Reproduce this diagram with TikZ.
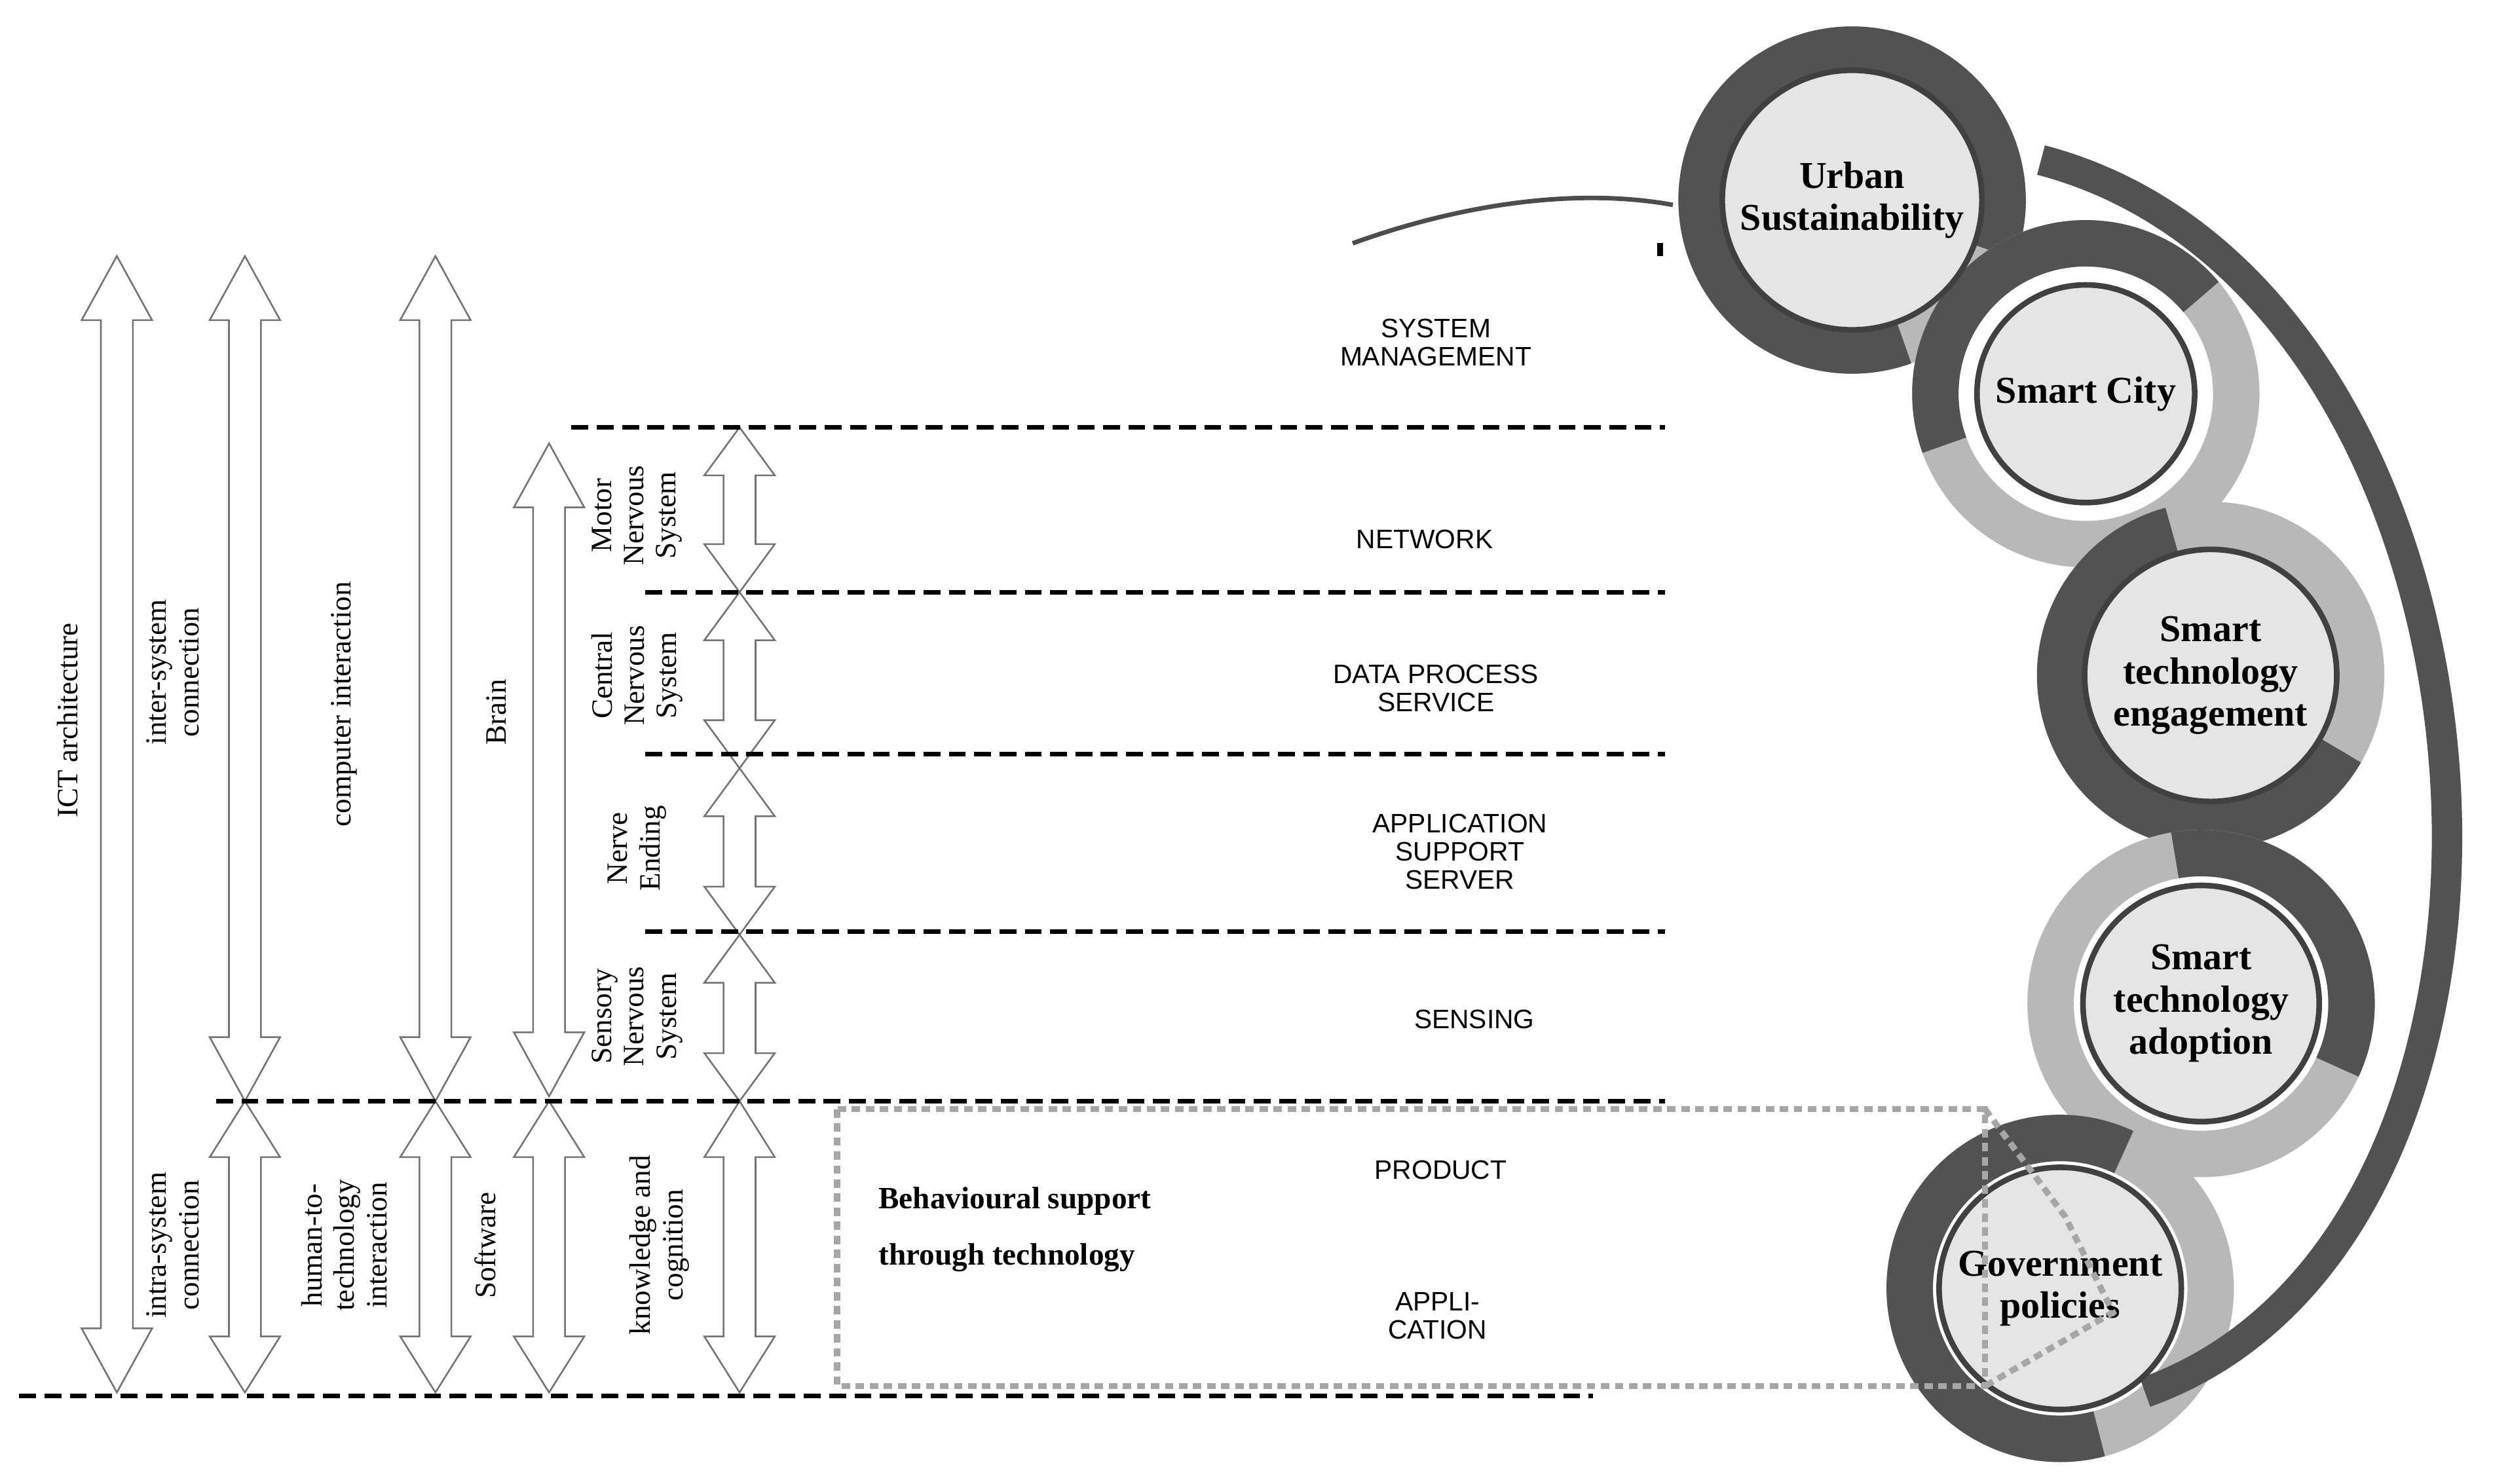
\documentclass[tikz,border=0pt]{standalone}
\usepackage{fontspec}
\setmainfont{Liberation Serif}
\newfontfamily\layerfont{Liberation Sans}
\tikzset{%
        hollow arrow/.style={draw=black!55, fill=white, line width=0.6pt},
        layer line/.style={dashed, line width=1.6pt, dash pattern=on 6pt off 3pt},
        layer text/.style={font=\layerfont\fontsize{9.5}{10}\selectfont, align=center},
        side text/.style={rotate=90, align=center, font=\fontsize{10.5}{11.5}\selectfont},
        goal circle/.style={circle, draw=black!75, line width=2pt, fill=black!10,
            minimum size=136*0.02cm, align=center, font=\bfseries\fontsize{13.5}{15}\selectfont},
        ring light/.style={draw=black!28, line width=0.58cm},
        ring dark/.style={draw=black!68, line width=0.58cm},
    }
\newcommand\vArrow[4]{% x, top, bottom, head length
    \draw [hollow arrow] (#1,#2) -- (#1+22,#2-#4) -- (#1+10,#2-#4) -- (#1+10,#3+#4)
        -- (#1+22,#3+#4) -- (#1,#3) -- (#1-22,#3+#4) -- (#1-10,#3+#4)
        -- (#1-10,#2-#4) -- (#1-22,#2-#4) -- cycle;}
\newcommand\goalRing[3]{% centre, dark from, dark to
    \draw [ring light] (#1) circle [radius=94*0.02cm];
    \draw [ring dark] (#1) ++(#2:94*0.02cm) arc [start angle=#2, end angle=#3, radius=94*0.02cm];}

\begin{document}
\begin{tikzpicture}[x=0.02cm, y=0.02cm]
        \useasboundingbox (0,0) rectangle (1568,-927);

        % architecture arrows
        \vArrow{73}{-160}{-870}{40}
        \vArrow{153}{-160}{-688}{40}
        \vArrow{272}{-160}{-688}{40}
        \vArrow{343}{-277}{-685}{40}
        \foreach \x in {153,272,343,462}
            {\vArrow{\x}{-688}{-870}{35}}
        \foreach \t/\b in {267/370,370/480,480/584,584/688}
            {\vArrow{462}{-\t}{-\b}{30}}

        % layer lines
        \foreach \y/\s in {267/357,370/403,471/403,582/403,688/135}
            {\draw [layer line] (\s,-\y) -- (1040,-\y);}
        \draw [layer line] (12,-872) -- (995,-872);

        % side labels
        \node [side text] (ict) at (42,-450) {ICT architecture};
        \node [side text] (inter) at (108,-420) {inter-system\\connection};
        \node [side text] (comp) at (215,-440) {computer interaction};
        \node [side text] (brain) at (310,-445) {Brain};
        \node [side text] (motor) at (398,-322) {Motor\\Nervous\\System};
        \node [side text] (central) at (398,-422) {Central\\Nervous\\System};
        \node [side text] (nerve) at (398,-530) {Nerve\\Ending};
        \node [side text] (sensory) at (398,-635) {Sensory\\Nervous\\System};
        \node [side text] (intra) at (108,-778) {intra-system\\connection};
        \node [side text] (human) at (215,-778) {human-to-\\technology\\interaction};
        \node [side text] (soft) at (303,-778) {Software};
        \node [side text] (know) at (412,-778) {knowledge and\\cognition};

        % layer names
        \node [layer text] (sysman) at (897,-214) {SYSTEM\\MANAGEMENT};
        \node [layer text] (network) at (890,-337) {NETWORK};
        \node [layer text] (data) at (897,-430) {DATA PROCESS\\SERVICE};
        \node [layer text] (appsup) at (912,-532) {APPLICATION\\SUPPORT\\SERVER};
        \node [layer text] (sensing) at (921,-637) {SENSING};
        \node [layer text] (product) at (900,-731) {PRODUCT};
        \node [layer text] (appli) at (898,-822) {APPLI-\\CATION};

        \node [font=\bfseries\fontsize{11}{20}\selectfont, align=left] (behav) at (634,-768)
            {Behavioural support\\through technology};

        \draw [black!70, line width=1.6pt] (845,-152) .. controls (920,-125) and (990,-118) .. (1045,-128);
        \draw [black, line width=2pt] (1037,-152) -- (1037,-160);

        % goal rings
        \goalRing{1157,-125}{-20}{290}
        \goalRing{1303,-246}{40}{200}
        \goalRing{1381,-422}{105}{330}
        \goalRing{1375,-627}{-25}{100}
        \goalRing{1287,-805}{65}{285}

        \draw [black!68, line width=0.38cm] (1275,-100) .. controls (1580,-180) and (1620,-770) .. (1340,-870);

        \node [goal circle] (urban) at (1157,-125) {Urban\\Sustainability};
        \node [goal circle] (city) at (1303,-246) {Smart City};
        \node [goal circle] (engage) at (1381,-422) {Smart\\technology\\engagement};
        \node [goal circle] (adopt) at (1375,-627) {Smart\\technology\\adoption};
        \node [goal circle] (gov) at (1287,-805) {Government\\policies};

        \draw [black!35, line width=2.2pt, dash pattern=on 3pt off 2pt] (523,-693) rectangle (1240,-866);
        \draw [black!35, line width=2.2pt, dash pattern=on 3pt off 2pt] (1240,-693) -- (1290,-760) -- (1320,-820) -- (1240,-866);
\end{tikzpicture}
\end{document}
